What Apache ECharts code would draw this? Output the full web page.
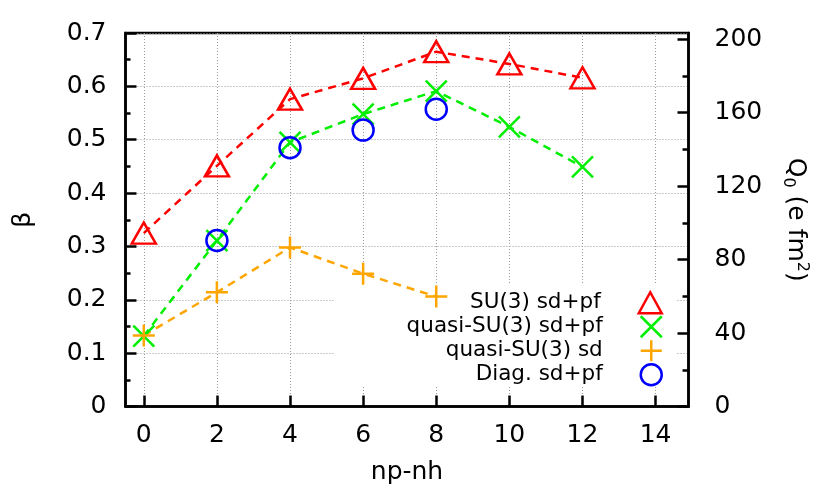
<!DOCTYPE html>
<html>
<head>
<meta charset="utf-8">
<script src="https://cdn.jsdelivr.net/npm/echarts@6/dist/echarts.min.js"></script>
<style>
  html, body { margin: 0; padding: 0; background: #fff; }
  #chart { width: 830px; height: 498px; }
</style>
</head>
<body>
<div id="chart"></div>
<script>
// np-nh values and beta for each calculation
var xSu3 = [0, 2, 4, 6, 8, 10, 12];
var su3Sdpf = [0.325, 0.451, 0.576, 0.615, 0.665, 0.642, 0.616];
var xQuasiSdpf = [0, 2, 4, 6, 8, 10, 12];
var quasiSdpf = [0.132, 0.311, 0.495, 0.548, 0.591, 0.524, 0.449];
var xQuasiSd = [0, 2, 4, 6, 8];
var quasiSd = [0.133, 0.214, 0.298, 0.249, 0.206];
var xDiag = [2, 4, 6, 8];
var diagSdpf = [0.311, 0.485, 0.518, 0.557];

var xTicks = [0, 2, 4, 6, 8, 10, 12, 14];
var q0Ticks = [0, 40, 80, 120, 160, 200];
var names = ['SU(3) sd+pf', 'quasi-SU(3) sd+pf', 'quasi-SU(3) sd', 'Diag. sd+pf'];

var FONT = 'DejaVu Sans';
var crossPath = 'path://M0,0L20,20M20,0L0,20';
var plusPath = 'path://M10,0L10,20M0,10L20,10';

function pairs (xs, ys) {
  return xs.map(function (x, i) { return [x, ys[i]] })
}

function lineSeries (name, xs, ys, color, symbol, size) {
  return {
    name: name,
    type: 'line',
    data: pairs(xs, ys),
    symbol: symbol,
    symbolSize: size,
    showAllSymbol: true,
    itemStyle: { color: 'rgba(0,0,0,0)', borderColor: color, borderWidth: 2.5 },
    lineStyle: { color: color, width: 2.5, type: [8, 6] },
    emphasis: { disabled: true },
    animation: false
  }
}

function legendItem (name, top, symbol, color, w, h) {
  return {
    show: true,
    orient: 'vertical',
    align: 'right',
    right: 167,
    top: top,
    padding: 0,
    itemWidth: w,
    itemHeight: h,
    selectedMode: false,
    textStyle: { fontFamily: FONT, fontSize: 21.5, color: '#000', padding: [0, 33, 0, 0] },
    data: [{
      name: name,
      icon: symbol,
      itemStyle: { color: 'rgba(0,0,0,0)', borderColor: color, borderWidth: 2.5 }
    }]
  }
}

var dom = echarts.init(document.getElementById('chart'))
dom.setOption({
  backgroundColor: '#fff',
  animation: false,
  grid: {
    left: 125.5,
    right: 141.5,
    top: 33,
    bottom: 91.5,
    show: true,
    borderColor: '#000',
    borderWidth: 2.5,
    backgroundColor: 'rgba(0,0,0,0)'
  },
  graphic: [{
    type: 'rect',
    z: 1,
    shape: { x: 335, y: 284, width: 341, height: 102 },
    style: { fill: '#fff' },
    silent: true
  }],
  legend: [
    legendItem(names[0], 291, 'triangle', '#ff0000', 23, 21),
    legendItem(names[1], 315, crossPath, '#00ee00', 21, 21),
    legendItem(names[2], 339, plusPath, '#ffa500', 21, 21),
    legendItem(names[3], 363, 'circle', '#0000ff', 21, 21)
  ],
  xAxis: {
    type: 'value',
    min: -0.5,
    max: 14.9,
    name: 'np-nh',
    nameLocation: 'middle',
    nameGap: 53,
    nameTextStyle: { fontFamily: FONT, fontSize: 25, color: '#000' },
    axisLine: { show: true, onZero: false, lineStyle: { color: '#000', width: 2.5 } },
    axisTick: { show: true, inside: true, length: 11, customValues: xTicks, lineStyle: { color: '#000', width: 2.5 } },
    axisLabel: { fontFamily: FONT, fontSize: 25, color: '#000', margin: 16, customValues: xTicks },
    splitLine: { show: true, lineStyle: { color: '#999', width: 1, type: [1, 2] } }
  },
  yAxis: [{
    type: 'value',
    min: 0,
    max: 0.7,
    interval: 0.1,
    position: 'left',
    name: 'β',
    nameLocation: 'middle',
    nameGap: 90,
    nameTextStyle: { fontFamily: FONT, fontSize: 25, color: '#000' },
    axisLine: { show: true, onZero: false, lineStyle: { color: '#000', width: 2.5 } },
    axisTick: { show: true, inside: true, length: 11, lineStyle: { color: '#000', width: 2.5 } },
    minorTick: { show: true, splitNumber: 2, length: 5, lineStyle: { color: '#000', width: 2.5 } },
    axisLabel: { fontFamily: FONT, fontSize: 25, color: '#000', margin: 19 },
    splitLine: { show: true, lineStyle: { color: '#999', width: 1, type: [1, 2] } }
  }, {
    type: 'value',
    min: 0,
    max: 203.3,
    interval: 40,
    position: 'right',
    name: 'Q{sub|0} (e fm{sup|2})',
    nameLocation: 'middle',
    nameRotate: -90,
    nameGap: 92,
    nameTextStyle: {
      fontFamily: FONT, fontSize: 25, color: '#000', lineHeight: 30,
      rich: {
        sub: { fontFamily: FONT, fontSize: 16, verticalAlign: 'bottom', lineHeight: 30 },
        sup: { fontFamily: FONT, fontSize: 16, verticalAlign: 'top', lineHeight: 30 }
      }
    },
    axisLine: { show: true, onZero: false, lineStyle: { color: '#000', width: 2.5 } },
    axisTick: { show: true, inside: true, length: 11, customValues: q0Ticks, lineStyle: { color: '#000', width: 2.5 } },
    minorTick: { show: true, splitNumber: 2, length: 6, lineStyle: { color: '#000', width: 2.5 } },
    axisLabel: { fontFamily: FONT, fontSize: 25, color: '#000', margin: 26, customValues: q0Ticks },
    splitLine: { show: false }
  }],
  series: [
    lineSeries(names[0], xSu3, su3Sdpf, '#ff0000', 'triangle', [24, 21]),
    lineSeries(names[1], xQuasiSdpf, quasiSdpf, '#00ee00', crossPath, 21),
    lineSeries(names[2], xQuasiSd, quasiSd, '#ffa500', plusPath, 22),
    {
      name: names[3],
      type: 'scatter',
      data: pairs(xDiag, diagSdpf),
      symbol: 'circle',
      symbolSize: 21,
      itemStyle: { color: 'rgba(0,0,0,0)', borderColor: '#0000ff', borderWidth: 2.5, opacity: 1 },
      emphasis: { disabled: true },
      z: 3
    }
  ]
})
</script>
</body>
</html>
